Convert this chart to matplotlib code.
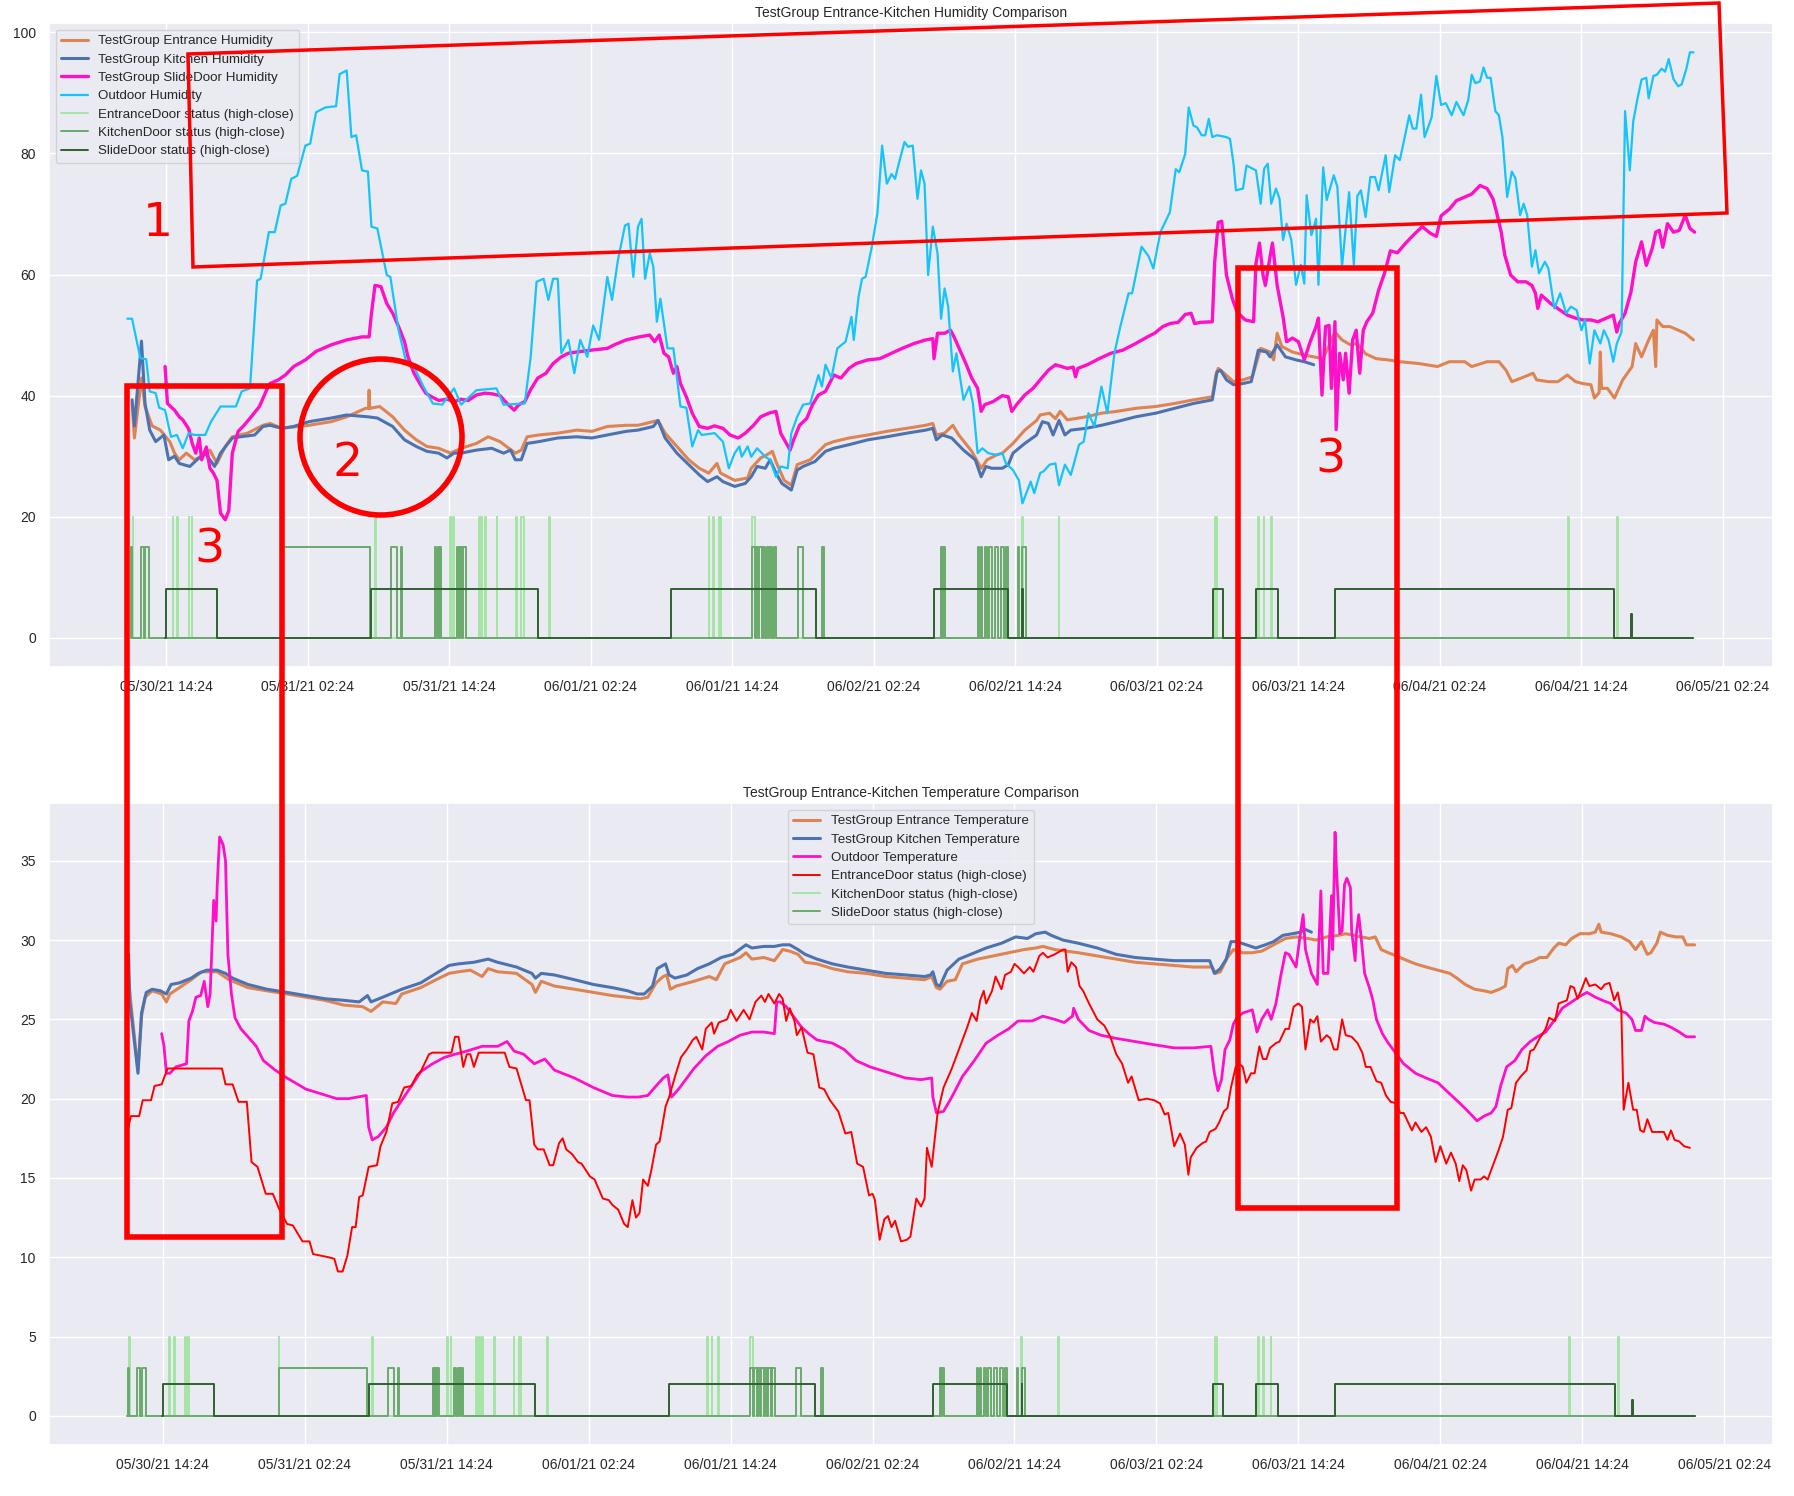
import numpy as np
import seaborn as sns
from matplotlib import pyplot as plt
from matplotlib import dates as mdates
from matplotlib.patches import Polygon, Ellipse, Rectangle

# hours since 2021-05-30 00:00, value
entrance_hum = [
    (11.5, 38.7), (11.7, 33.0), (12.3, 42.9), (12.6, 38.2), (13.2, 35.0), (13.9, 34.3), (14.7, 32.4), (15.1, 30.5),
    (15.5, 29.4), (16.1, 30.5), (16.8, 29.4), (17.4, 30.0), (18.1, 31.0), (18.7, 28.8), (19.4, 31.6), (20.0, 33.2),
    (21.3, 33.8), (22.6, 35.1), (23.2, 35.4), (24.2, 34.6), (26.5, 35.1), (28.4, 35.7), (29.7, 36.5), (31.3, 37.9),
    (31.55, 37.9), (31.6, 40.9), (31.65, 37.9), (32.5, 38.2), (33.6, 36.5), (34.6, 34.3), (35.6, 32.7), (36.5, 31.6),
    (37.5, 31.3), (38.5, 30.5), (39.4, 31.3), (40.7, 32.1), (41.7, 33.2), (42.7, 32.4), (44.0, 30.5), (44.5, 31.0),
    (45.0, 33.2), (46.0, 33.5), (47.6, 33.8), (49.2, 34.3), (50.5, 34.1), (51.8, 34.9), (53.4, 35.1), (54.4, 35.1),
    (56.1, 35.9), (56.7, 33.8), (57.7, 31.6), (58.7, 29.4), (59.6, 28.0), (60.4, 27.2), (61.1, 28.8), (61.4, 27.2),
    (62.6, 26.0), (63.7, 26.4), (64.0, 28.0), (64.8, 29.7), (65.3, 30.2), (65.8, 30.8), (66.1, 29.1), (66.8, 26.0),
    (67.4, 25.2), (67.9, 28.6), (69.0, 29.4), (70.3, 31.9), (71.0, 32.4), (72.3, 33.0), (73.9, 33.5), (75.5, 34.1),
    (77.2, 34.6), (78.8, 35.1), (79.4, 35.4), (79.7, 33.5), (80.4, 33.8), (81.1, 35.1), (81.6, 33.5), (82.7, 30.8),
    (83.5, 28.0), (84.0, 29.4), (84.8, 30.2), (85.3, 30.5), (86.2, 32.1), (87.2, 34.3), (88.2, 35.9), (88.5, 36.8),
    (89.3, 37.1), (89.8, 36.2), (90.2, 37.4), (90.8, 36.0), (92.4, 36.5), (93.7, 37.1), (95.0, 37.4), (96.6, 37.9),
    (98.3, 38.2), (99.9, 38.7), (101.5, 39.3), (103.1, 39.8), (103.4, 43.4), (103.6, 44.5), (104.1, 43.7), (104.9, 42.3),
    (105.7, 42.6), (106.5, 43.1), (107.2, 47.8), (108.0, 47.2), (108.3, 45.9), (108.6, 50.3), (109.0, 48.1), (109.9, 47.2),
    (110.9, 46.7), (112.5, 46.1), (113.5, 50.5), (114.1, 49.2), (114.8, 48.4), (115.4, 48.6), (116.1, 46.9), (117.0, 46.1),
    (118.0, 45.9), (119.0, 45.6), (120.6, 45.3), (122.2, 44.8), (123.2, 45.6), (124.5, 45.6), (125.1, 44.8), (126.4, 45.6),
    (127.4, 45.6), (128.0, 44.2), (128.5, 42.3), (129.3, 42.9), (130.3, 43.7), (130.6, 42.6), (131.6, 42.3), (132.4, 42.3),
    (133.2, 43.4), (133.9, 42.3), (134.5, 42.0), (135.2, 41.8), (135.5, 39.6), (135.9, 40.5), (136.0, 47.2), (136.1, 41.2),
    (136.6, 41.2), (137.2, 39.6), (137.9, 42.6), (138.7, 44.8), (139.0, 48.6), (139.5, 46.4), (140.1, 49.2), (140.5, 50.8),
    (140.7, 44.8), (140.8, 52.5), (141.3, 51.4), (141.9, 51.4), (142.6, 50.8), (143.2, 50.3), (143.9, 49.2),
]

kitchen_hum = [
    (11.5, 39.3), (11.7, 35.0), (12.3, 49.0), (12.6, 38.7), (13.0, 34.3), (13.5, 32.4), (14.2, 33.5), (14.6, 29.4),
    (15.1, 30.0), (15.5, 28.8), (16.4, 28.3), (17.0, 29.4), (17.7, 30.5), (18.5, 28.3), (19.0, 30.5), (20.0, 33.0),
    (20.7, 33.2), (21.9, 33.5), (22.6, 34.9), (23.2, 35.1), (24.2, 34.6), (25.2, 34.9), (26.5, 35.7), (28.4, 36.3),
    (29.7, 36.8), (31.5, 36.5), (32.3, 36.3), (33.6, 34.9), (34.6, 32.7), (35.6, 31.6), (36.5, 30.8), (37.5, 30.5),
    (38.2, 29.7), (38.8, 30.5), (39.4, 30.5), (40.7, 31.0), (42.0, 31.3), (43.0, 30.5), (43.6, 31.0), (44.0, 29.4),
    (44.5, 29.4), (45.0, 32.1), (46.0, 32.4), (47.6, 33.0), (49.2, 33.2), (50.5, 33.0), (51.8, 33.5), (53.4, 34.1),
    (54.4, 34.3), (55.7, 34.9), (56.1, 35.9), (56.7, 33.0), (57.7, 30.5), (58.7, 28.6), (59.6, 26.9), (60.3, 25.8),
    (61.1, 26.6), (61.6, 25.8), (62.6, 25.0), (63.5, 25.5), (64.0, 26.6), (64.5, 28.3), (65.2, 28.0), (65.6, 29.4),
    (66.1, 27.2), (66.6, 25.5), (67.4, 24.4), (67.9, 27.7), (68.4, 28.3), (69.4, 29.1), (70.3, 30.8), (71.0, 31.3),
    (72.3, 31.9), (73.9, 32.7), (75.5, 33.2), (77.2, 33.8), (78.8, 34.3), (79.4, 34.6), (79.7, 32.7), (80.2, 33.5),
    (81.0, 33.0), (82.0, 31.0), (83.0, 29.4), (83.5, 26.6), (83.9, 28.3), (84.4, 28.0), (85.3, 28.0), (85.8, 28.6),
    (86.2, 30.5), (87.2, 32.1), (88.2, 33.5), (88.7, 35.7), (89.2, 35.4), (89.6, 33.5), (90.1, 35.9), (90.6, 33.5),
    (91.1, 34.3), (92.4, 34.6), (93.7, 35.1), (95.0, 35.7), (96.6, 36.5), (98.3, 37.1), (99.9, 37.9), (101.5, 38.7),
    (103.1, 39.3), (103.5, 43.9), (103.8, 44.2), (104.3, 42.6), (104.9, 41.8), (105.7, 42.0), (106.4, 42.3), (107.0, 47.5),
    (107.7, 47.2), (108.0, 46.4), (108.6, 48.4), (109.3, 46.4), (110.2, 45.9), (110.9, 45.6), (111.7, 45.1),
]

slidedoor_hum = [
    (14.3, 44.8), (14.5, 38.7), (15.1, 37.6), (15.5, 36.5), (15.8, 36.0), (16.3, 34.5), (16.6, 32.1), (16.9, 30.5),
    (17.2, 33.0), (17.4, 29.4), (17.8, 31.5), (18.1, 28.0), (18.4, 27.2), (18.7, 26.0), (19.0, 20.6), (19.4, 19.5),
    (19.7, 21.0), (20.0, 30.5), (20.5, 34.1), (21.0, 35.1), (21.6, 36.5), (22.3, 38.2), (22.9, 40.9), (23.2, 42.0),
    (23.9, 42.6), (24.5, 43.4), (25.2, 44.8), (26.2, 45.9), (27.1, 47.3), (28.4, 48.4), (29.7, 49.2), (31.0, 49.7),
    (31.6, 49.7), (31.8, 53.6), (32.1, 58.2), (32.6, 58.0), (33.1, 55.2), (33.6, 53.6), (34.1, 51.4), (34.6, 48.9),
    (34.9, 46.4), (35.4, 43.7), (35.9, 42.0), (36.4, 40.4), (36.9, 39.8), (37.5, 39.2), (38.2, 39.4), (38.8, 39.0),
    (39.4, 39.4), (40.0, 39.2), (40.7, 40.1), (41.4, 40.4), (42.0, 40.3), (42.7, 40.0), (43.3, 38.7), (43.9, 37.6),
    (44.3, 38.5), (44.8, 39.0), (45.3, 41.0), (45.9, 42.9), (46.6, 43.7), (47.2, 45.3), (47.9, 46.4), (48.5, 47.0),
    (49.2, 47.2), (50.4, 47.5), (51.8, 47.8), (52.4, 48.4), (53.4, 49.2), (54.5, 49.7), (55.4, 50.0), (55.8, 48.9),
    (56.2, 50.0), (56.6, 47.0), (57.0, 46.4), (57.4, 43.7), (57.7, 44.8), (58.0, 42.0), (58.5, 39.8), (59.0, 37.1),
    (59.6, 34.9), (60.3, 34.6), (60.9, 35.0), (61.6, 34.6), (62.2, 33.5), (62.9, 33.0), (63.5, 33.8), (64.2, 35.1),
    (64.8, 36.5), (65.5, 37.1), (66.1, 37.4), (66.5, 33.8), (66.9, 32.4), (67.3, 31.0), (67.6, 32.7), (68.1, 35.1),
    (68.7, 36.2), (69.2, 38.5), (69.7, 40.1), (70.3, 40.7), (71.0, 43.4), (71.6, 42.9), (72.3, 44.5), (72.9, 45.3),
    (73.9, 45.9), (74.9, 46.1), (75.9, 47.0), (76.8, 47.8), (77.8, 48.6), (78.8, 49.2), (79.4, 49.4), (79.5, 46.1),
    (79.8, 50.3), (80.4, 50.3), (80.9, 50.8), (81.2, 49.7), (81.7, 47.5), (82.2, 45.3), (82.7, 42.9), (83.2, 41.2),
    (83.5, 37.4), (83.8, 38.5), (84.5, 39.0), (85.3, 40.0), (85.8, 39.8), (86.1, 37.4), (86.5, 38.5), (87.2, 40.1),
    (87.9, 41.2), (88.5, 42.6), (89.2, 44.2), (89.8, 45.1), (90.8, 44.5), (91.3, 44.7), (91.5, 43.1), (91.7, 44.5),
    (92.5, 45.1), (93.5, 46.1), (94.5, 47.0), (95.5, 47.5), (96.6, 48.6), (97.6, 49.7), (98.2, 50.3), (98.9, 51.4),
    (99.5, 51.9), (100.2, 52.1), (100.8, 53.4), (101.3, 53.6), (101.6, 51.9), (102.1, 52.1), (103.1, 52.2), (103.3, 62.0),
    (103.6, 68.6), (103.9, 68.8), (104.3, 59.9), (104.8, 56.0), (105.2, 53.8), (105.9, 52.5), (106.6, 52.2), (106.8, 61.8),
    (107.1, 65.2), (107.4, 59.9), (107.6, 58.2), (108.0, 63.0), (108.2, 65.2), (108.6, 58.2), (109.1, 53.0), (109.4, 48.9),
    (109.9, 49.5), (110.4, 48.9), (110.9, 45.9), (111.4, 48.9), (111.9, 51.4), (112.1, 52.8), (112.4, 40.1), (112.7, 51.4),
    (113.0, 51.6), (113.2, 41.2), (113.5, 52.2), (113.6, 34.4), (113.9, 47.0), (114.2, 42.6), (114.4, 47.0), (114.7, 40.4),
    (115.0, 49.2), (115.3, 50.8), (115.6, 43.7), (115.9, 50.8), (116.2, 52.2), (116.7, 53.6), (117.2, 57.4), (117.7, 60.2),
    (118.2, 63.9), (118.8, 63.6), (119.5, 65.2), (120.3, 66.8), (120.9, 67.9), (121.6, 66.8), (122.1, 66.3), (122.5, 69.7),
    (123.2, 70.8), (123.8, 72.2), (124.5, 72.8), (125.1, 73.3), (125.8, 74.7), (126.4, 74.2), (126.9, 72.5), (127.2, 70.3),
    (127.6, 67.0), (127.9, 63.2), (128.4, 59.9), (129.0, 58.8), (129.7, 58.8), (130.2, 58.2), (130.5, 56.9), (130.7, 54.4),
    (131.0, 56.6), (131.8, 55.2), (132.6, 54.1), (133.2, 53.3), (133.9, 52.8), (134.5, 52.5), (135.2, 52.5), (135.8, 52.2),
    (136.5, 52.8), (137.1, 53.3), (137.4, 50.5), (137.6, 51.9), (138.1, 53.6), (138.6, 57.1), (139.0, 62.1), (139.5, 65.4),
    (139.9, 61.5), (140.4, 64.3), (140.7, 67.0), (141.0, 67.3), (141.3, 64.5), (141.7, 68.4), (142.2, 67.0), (142.7, 67.3),
    (143.2, 69.8), (143.6, 67.6), (144.0, 67.0),
]

outdoor_hum = [
    (11.1, 52.7), (11.5, 52.7), (12.2, 46.2), (12.7, 46.0), (13.0, 40.7), (13.5, 40.4), (13.8, 38.0), (14.3, 37.6),
    (14.8, 33.2), (15.3, 33.5), (15.8, 31.3), (16.3, 33.8), (16.8, 33.5), (17.7, 33.5), (18.2, 35.7), (19.0, 38.2),
    (20.3, 38.2), (20.8, 40.7), (21.5, 41.2), (22.1, 59.0), (22.4, 59.3), (23.1, 67.0), (23.6, 67.0), (24.1, 71.4),
    (24.5, 71.7), (25.0, 75.8), (25.5, 76.3), (26.2, 81.3), (26.6, 81.6), (27.1, 86.8), (27.9, 87.6), (28.8, 87.8),
    (29.1, 93.1), (29.7, 93.7), (30.1, 82.7), (30.5, 83.0), (31.0, 77.2), (31.5, 77.0), (31.8, 67.9), (32.3, 67.6),
    (33.1, 59.9), (33.4, 59.6), (34.1, 50.8), (34.7, 45.9), (35.4, 44.8), (36.2, 41.5), (37.0, 38.7), (37.8, 38.5),
    (38.8, 41.2), (39.4, 38.5), (40.7, 40.9), (42.4, 41.2), (43.0, 38.5), (44.8, 38.7), (45.3, 46.4), (45.8, 58.8),
    (46.4, 59.3), (46.8, 55.8), (47.2, 59.3), (47.6, 59.3), (47.9, 47.0), (48.5, 49.2), (49.0, 43.7), (49.5, 49.2),
    (50.1, 46.4), (50.6, 51.6), (51.1, 49.2), (51.8, 59.6), (52.2, 55.8), (52.7, 62.4), (53.3, 68.1), (53.6, 68.4),
    (54.0, 59.6), (54.4, 67.9), (54.7, 69.2), (55.0, 59.3), (55.4, 63.5), (55.7, 61.3), (56.0, 52.2), (56.3, 56.0),
    (56.9, 47.8), (57.4, 47.8), (58.0, 38.2), (58.5, 38.0), (59.0, 31.6), (59.5, 34.3), (59.8, 33.5), (60.9, 33.8),
    (61.6, 32.4), (62.1, 28.0), (62.6, 30.5), (63.0, 31.6), (63.2, 29.9), (63.7, 31.6), (64.0, 29.9), (64.5, 31.3),
    (65.2, 29.9), (65.6, 29.4), (66.1, 26.6), (66.5, 28.3), (67.1, 28.0), (67.4, 33.8), (67.9, 36.5), (68.4, 38.5),
    (69.0, 38.7), (69.7, 43.4), (70.0, 41.5), (70.3, 45.1), (70.8, 42.9), (71.3, 47.8), (72.0, 48.9), (72.5, 53.0),
    (72.7, 49.2), (73.1, 56.3), (73.4, 59.3), (73.7, 59.6), (74.2, 64.3), (74.7, 70.1), (75.1, 81.3), (75.5, 75.0),
    (75.9, 76.6), (76.2, 75.8), (76.5, 78.2), (77.0, 81.9), (77.3, 81.1), (77.7, 81.3), (78.1, 72.5), (78.4, 77.2),
    (78.7, 75.0), (79.0, 59.9), (79.4, 67.9), (79.8, 63.5), (80.1, 52.7), (80.4, 57.7), (80.7, 54.7), (81.1, 44.0),
    (81.4, 47.0), (82.0, 39.3), (82.5, 41.5), (82.8, 38.7), (83.2, 30.5), (83.6, 31.3), (84.1, 30.5), (84.8, 30.2),
    (85.3, 30.5), (85.6, 28.8), (86.2, 27.7), (86.7, 26.0), (87.0, 22.2), (87.7, 25.8), (88.0, 23.9), (88.5, 27.2),
    (88.8, 27.5), (89.3, 28.6), (89.8, 28.8), (90.1, 25.2), (90.6, 28.6), (91.1, 26.9), (91.8, 31.9), (92.2, 32.4),
    (92.6, 37.1), (93.1, 34.9), (93.7, 41.5), (94.2, 37.1), (94.8, 47.0), (95.3, 51.4), (96.0, 56.9), (96.3, 56.9),
    (97.1, 64.6), (97.7, 63.0), (98.1, 61.0), (98.7, 67.0), (99.5, 70.3), (100.0, 77.4), (100.3, 76.9), (100.8, 79.9),
    (101.1, 87.6), (101.5, 84.6), (101.8, 84.3), (102.2, 83.0), (102.5, 83.0), (102.8, 85.7), (103.1, 82.7), (103.5, 83.0),
    (104.3, 82.7), (104.6, 82.4), (104.9, 78.3), (105.1, 73.9), (105.7, 74.2), (106.0, 78.0), (106.5, 77.5), (106.8, 77.2),
    (107.2, 71.7), (107.5, 77.5), (107.8, 78.3), (108.1, 71.7), (108.5, 74.2), (108.8, 72.5), (109.1, 65.7), (109.4, 68.4),
    (109.8, 65.7), (110.2, 58.3), (110.6, 61.6), (110.9, 58.5), (111.1, 73.1), (111.5, 66.5), (111.9, 69.2), (112.1, 58.3),
    (112.5, 77.7), (112.8, 72.3), (113.4, 76.4), (113.7, 74.5), (114.1, 61.3), (114.7, 73.6), (115.1, 61.6), (115.4, 73.0),
    (115.7, 73.9), (116.1, 69.5), (116.5, 76.1), (116.9, 76.1), (117.2, 73.9), (117.8, 79.7), (118.1, 73.6), (118.6, 79.7),
    (119.0, 78.9), (119.3, 81.6), (119.8, 86.3), (120.1, 84.1), (120.4, 84.1), (120.8, 89.7), (121.1, 82.7), (121.4, 84.3),
    (121.7, 86.0), (122.1, 92.8), (122.5, 88.0), (122.9, 88.3), (123.4, 86.3), (123.8, 88.5), (124.4, 86.3), (124.8, 88.8),
    (125.1, 93.0), (125.4, 91.6), (125.8, 91.9), (126.1, 94.2), (126.4, 92.5), (126.7, 92.5), (127.1, 87.0), (127.4, 86.3),
    (127.7, 82.7), (128.1, 72.8), (128.5, 77.0), (128.8, 75.9), (129.2, 69.8), (129.5, 71.7), (129.8, 69.8), (130.2, 61.3),
    (130.5, 64.0), (130.8, 60.2), (131.3, 62.1), (131.6, 61.0), (132.1, 54.4), (132.6, 56.9), (133.1, 53.6), (133.5, 54.7),
    (134.0, 54.1), (134.4, 50.8), (134.7, 52.5), (135.1, 45.3), (135.5, 50.8), (136.0, 48.6), (136.3, 50.8), (136.7, 49.2),
    (137.1, 45.6), (137.4, 48.6), (137.8, 50.5), (138.1, 87.0), (138.5, 77.2), (138.8, 85.4), (139.2, 89.5), (139.5, 92.2),
    (139.9, 92.5), (140.1, 89.1), (140.5, 92.8), (140.8, 93.0), (141.2, 94.0), (141.5, 93.5), (141.8, 95.6), (142.2, 92.3),
    (142.6, 91.1), (142.9, 91.4), (143.3, 94.0), (143.6, 96.7), (143.9, 96.7),
]

entrance_temp = [
    (11.5, 27.7), (11.7, 26.0), (12.3, 21.8), (12.6, 25.2), (12.9, 26.4), (13.5, 26.8), (14.3, 26.6), (14.7, 26.1),
    (15.0, 26.6), (15.8, 27.0), (16.8, 27.5), (17.7, 28.0), (19.0, 28.0), (20.0, 27.5), (21.6, 27.0), (23.2, 26.8),
    (24.9, 26.6), (26.5, 26.4), (28.1, 26.2), (29.7, 25.9), (31.3, 25.8), (32.0, 25.5), (33.0, 26.1), (34.1, 26.0),
    (34.6, 26.6), (36.2, 27.0), (37.5, 27.5), (38.6, 27.9), (39.4, 28.0), (40.4, 28.1), (41.4, 27.7), (41.9, 28.2),
    (42.7, 28.0), (44.3, 27.9), (45.6, 27.2), (45.9, 26.7), (46.4, 27.4), (47.5, 27.1), (49.2, 26.9), (50.8, 26.7),
    (52.4, 26.5), (54.8, 26.3), (55.4, 26.4), (56.1, 27.3), (56.7, 27.7), (57.0, 27.8), (57.3, 26.9), (57.8, 27.1),
    (59.3, 27.4), (60.6, 27.7), (61.2, 27.5), (61.9, 28.5), (63.2, 28.9), (63.7, 29.2), (64.2, 28.8), (65.2, 28.9),
    (66.1, 28.7), (66.8, 29.4), (67.4, 29.3), (68.1, 29.1), (68.7, 28.6), (69.7, 28.5), (71.0, 28.2), (72.3, 28.0),
    (73.9, 27.9), (75.5, 27.7), (77.2, 27.6), (78.8, 27.5), (79.4, 27.7), (79.8, 27.0), (80.1, 26.9), (80.7, 27.4),
    (81.4, 27.5), (82.0, 28.5), (83.3, 28.8), (84.6, 29.0), (85.9, 29.2), (87.2, 29.4), (88.2, 29.5), (88.8, 29.6),
    (89.8, 29.4), (90.8, 29.3), (91.8, 29.2), (93.4, 29.0), (95.0, 28.8), (96.6, 28.6), (98.2, 28.5), (99.9, 28.4),
    (101.5, 28.3), (103.1, 28.3), (103.4, 27.9), (103.8, 28.0), (104.4, 28.9), (104.9, 29.4), (105.7, 29.2), (106.5, 29.2),
    (107.3, 29.3), (108.3, 29.7), (109.3, 30.1), (110.2, 30.2), (111.2, 30.1), (111.9, 30.0), (112.8, 30.2), (113.8, 30.3),
    (114.4, 30.4), (115.1, 30.3), (115.7, 30.2), (116.4, 30.1), (116.9, 30.2), (117.4, 29.4), (118.0, 29.2), (118.7, 29.0),
    (119.3, 28.8), (120.3, 28.5), (121.2, 28.3), (122.2, 28.1), (123.2, 27.9), (123.8, 27.6), (124.5, 27.2), (125.3, 26.9),
    (126.1, 26.8), (126.7, 26.7), (127.4, 26.9), (127.9, 27.1), (128.1, 28.2), (128.5, 28.4), (128.8, 28.0), (129.5, 28.5),
    (130.3, 28.7), (130.8, 28.9), (131.4, 28.9), (132.0, 29.5), (132.4, 29.8), (133.0, 29.7), (133.5, 30.1), (134.2, 30.4),
    (135.0, 30.4), (135.5, 30.5), (135.8, 31.0), (136.0, 30.5), (136.8, 30.4), (137.7, 30.2), (138.4, 29.9), (138.9, 29.4),
    (139.4, 29.9), (139.9, 29.1), (140.2, 29.2), (140.7, 29.8), (141.0, 30.5), (141.6, 30.3), (142.3, 30.2), (142.9, 30.2),
    (143.2, 29.7), (143.9, 29.7),
]

kitchen_temp = [
    (11.5, 29.1), (11.6, 26.2), (12.3, 21.6), (12.6, 25.4), (13.0, 26.7), (13.5, 26.9), (14.2, 26.8), (14.7, 26.6),
    (15.1, 27.2), (15.8, 27.3), (16.8, 27.6), (17.4, 27.9), (18.1, 28.1), (19.0, 28.1), (19.7, 27.9), (20.3, 27.6),
    (21.6, 27.2), (23.2, 26.9), (24.9, 26.7), (26.5, 26.5), (28.1, 26.3), (29.7, 26.2), (31.0, 26.1), (31.7, 26.5),
    (32.0, 26.1), (33.0, 26.4), (34.6, 26.9), (36.2, 27.3), (37.5, 27.9), (38.6, 28.4), (39.4, 28.5), (40.7, 28.6),
    (41.9, 28.8), (42.7, 28.6), (44.3, 28.3), (45.6, 27.9), (45.9, 27.6), (46.4, 27.9), (47.5, 27.8), (49.2, 27.5),
    (50.8, 27.2), (52.4, 27.0), (53.7, 26.8), (54.5, 26.6), (55.1, 26.6), (55.8, 27.1), (56.2, 28.2), (56.9, 28.5),
    (57.2, 27.8), (57.7, 27.6), (58.7, 27.8), (59.6, 28.2), (60.6, 28.5), (61.6, 28.9), (62.6, 29.1), (63.7, 29.7),
    (64.2, 29.5), (65.2, 29.6), (66.1, 29.6), (66.8, 29.7), (67.4, 29.7), (68.1, 29.4), (68.7, 29.1), (69.7, 28.8),
    (71.0, 28.5), (72.3, 28.3), (73.9, 28.1), (75.5, 27.9), (77.2, 27.8), (78.8, 27.7), (79.3, 27.8), (79.5, 28.0),
    (79.8, 27.2), (80.1, 27.1), (80.7, 28.1), (81.7, 28.8), (82.7, 29.1), (84.0, 29.5), (85.3, 29.8), (86.5, 30.2),
    (87.5, 30.1), (88.2, 30.4), (89.0, 30.5), (89.5, 30.3), (90.5, 30.0), (91.8, 29.8), (93.4, 29.5), (95.0, 29.1),
    (96.6, 28.9), (98.2, 28.8), (99.9, 28.7), (101.5, 28.7), (102.9, 28.7), (103.3, 27.9), (103.8, 28.2), (104.3, 28.8),
    (104.7, 29.9), (105.2, 29.9), (106.0, 29.7), (106.8, 29.5), (107.6, 29.7), (108.3, 29.9), (109.1, 30.3), (109.9, 30.4),
    (110.6, 30.5), (110.9, 30.7), (111.5, 30.5),
]

slidedoor_temp = [
    (14.3, 24.1), (14.5, 23.3), (14.7, 21.6), (15.0, 21.6), (15.5, 22.0), (16.4, 22.2), (16.6, 24.9), (16.9, 25.5),
    (17.2, 26.4), (17.6, 26.5), (17.9, 27.4), (18.2, 25.8), (18.4, 26.6), (18.7, 32.5), (18.9, 31.2), (19.0, 33.5),
    (19.2, 36.5), (19.5, 36.0), (19.7, 35.0), (19.9, 29.1), (20.2, 26.6), (20.5, 25.1), (21.0, 24.4), (21.6, 23.9),
    (22.3, 23.3), (22.9, 22.4), (23.9, 21.8), (24.9, 21.3), (26.5, 20.6), (27.8, 20.3), (29.1, 20.0), (30.1, 20.0),
    (31.6, 20.2), (31.8, 18.2), (32.1, 17.4), (32.6, 17.6), (33.3, 18.2), (33.9, 19.1), (34.6, 19.9), (35.6, 21.0),
    (36.2, 21.7), (37.2, 22.2), (38.2, 22.6), (39.1, 22.8), (40.1, 23.0), (41.4, 23.3), (42.7, 23.3), (43.5, 23.6),
    (44.1, 23.0), (44.9, 22.8), (45.8, 22.2), (46.7, 22.5), (47.5, 21.8), (49.2, 21.3), (50.8, 20.7), (52.4, 20.2),
    (53.7, 20.1), (54.6, 20.1), (55.4, 20.2), (56.1, 20.8), (56.7, 21.3), (57.1, 21.5), (57.4, 20.1), (58.0, 20.6),
    (58.7, 21.3), (59.3, 21.9), (60.3, 22.7), (61.3, 23.3), (62.2, 23.6), (63.2, 24.0), (64.2, 24.2), (65.2, 24.2),
    (66.1, 24.1), (66.3, 26.1), (66.6, 26.1), (67.1, 25.8), (67.8, 25.1), (68.4, 24.5), (69.0, 24.1), (69.7, 23.7),
    (71.0, 23.5), (72.0, 23.1), (73.0, 22.4), (74.2, 22.0), (75.5, 21.7), (77.2, 21.3), (78.5, 21.2), (79.4, 21.3),
    (79.5, 20.1), (79.8, 19.1), (80.4, 19.2), (81.1, 20.1), (82.0, 21.4), (83.0, 22.4), (84.0, 23.5), (85.0, 24.0),
    (85.9, 24.4), (86.7, 24.9), (87.9, 24.9), (88.8, 25.2), (89.8, 25.0), (90.6, 24.8), (91.3, 25.2), (91.4, 25.7),
    (91.8, 25.0), (92.7, 24.3), (93.7, 24.0), (95.0, 23.8), (96.6, 23.6), (98.2, 23.4), (99.9, 23.2), (101.5, 23.2),
    (103.0, 23.3), (103.3, 21.6), (103.6, 20.5), (103.9, 21.2), (104.2, 23.1), (104.6, 23.7), (104.9, 24.7), (105.2, 25.1),
    (105.7, 25.4), (106.5, 25.6), (106.9, 24.2), (107.3, 25.0), (107.8, 25.6), (108.1, 25.0), (108.5, 26.0), (108.9, 27.7),
    (109.3, 29.2), (109.6, 29.1), (109.9, 28.7), (110.2, 28.3), (110.6, 30.6), (110.8, 31.6), (111.0, 29.4), (111.5, 27.9),
    (112.0, 27.2), (112.3, 33.1), (112.5, 27.9), (112.9, 27.9), (113.2, 32.8), (113.3, 29.4), (113.5, 36.8), (113.6, 34.8),
    (113.9, 30.4), (114.1, 30.6), (114.3, 33.5), (114.5, 33.9), (114.8, 33.3), (114.9, 30.6), (115.2, 28.7), (115.3, 30.4),
    (115.5, 31.6), (115.7, 30.2), (116.0, 27.9), (116.4, 27.0), (116.7, 26.2), (117.0, 25.0), (117.5, 24.1), (118.0, 23.5),
    (118.7, 22.8), (119.3, 22.2), (120.3, 21.6), (121.2, 21.3), (122.2, 21.0), (123.2, 20.3), (124.2, 19.6), (125.0, 19.0),
    (125.5, 18.6), (126.1, 18.9), (126.7, 19.1), (127.1, 19.5), (127.5, 20.8), (128.0, 22.0), (128.7, 22.4), (129.3, 23.1),
    (130.0, 23.6), (130.6, 23.9), (131.3, 24.2), (132.1, 25.0), (132.7, 25.7), (133.5, 26.1), (134.3, 26.5), (134.8, 26.7),
    (135.5, 26.4), (136.1, 26.2), (136.8, 26.0), (137.4, 25.6), (138.1, 25.4), (138.6, 25.0), (138.9, 24.3), (139.4, 24.3),
    (139.7, 25.2), (140.0, 25.0), (140.5, 24.8), (141.3, 24.7), (141.9, 24.5), (142.6, 24.2), (143.2, 23.9), (143.9, 23.9),
]

outdoor_temp = [
    (11.4, 17.9), (11.7, 18.9), (12.4, 18.9), (12.7, 19.9), (13.4, 19.9), (13.7, 20.8), (14.3, 20.9), (14.8, 21.9),
    (19.4, 21.9), (19.7, 20.9), (20.3, 20.9), (20.8, 19.8), (21.5, 19.8), (21.9, 16.0), (22.4, 15.7), (23.1, 14.0),
    (23.7, 14.0), (24.2, 13.1), (24.9, 12.1), (25.4, 12.0), (26.2, 11.0), (26.8, 11.0), (27.1, 10.2), (28.4, 10.0),
    (28.9, 9.9), (29.2, 9.1), (29.6, 9.1), (30.0, 10.1), (30.4, 11.9), (30.7, 11.9), (31.0, 13.8), (31.3, 13.9),
    (31.8, 15.7), (32.5, 15.8), (32.8, 17.0), (33.3, 17.9), (33.8, 19.7), (34.3, 19.8), (34.8, 20.7), (35.4, 20.8),
    (35.9, 21.5), (36.2, 21.7), (36.9, 22.8), (37.2, 22.9), (38.8, 22.9), (39.1, 23.9), (39.4, 23.9), (39.8, 22.0),
    (40.1, 22.8), (40.4, 22.8), (40.7, 22.0), (41.1, 22.9), (43.3, 22.9), (43.7, 22.0), (44.3, 21.9), (45.1, 19.9),
    (45.4, 19.9), (45.8, 17.1), (46.1, 16.8), (46.6, 16.8), (47.1, 15.8), (47.4, 15.8), (47.9, 17.2), (48.2, 17.5),
    (48.5, 16.8), (49.0, 16.5), (49.5, 16.0), (49.8, 15.9), (50.5, 15.1), (50.9, 14.9), (51.6, 13.7), (52.1, 13.6),
    (52.4, 13.3), (52.9, 13.0), (53.4, 12.1), (53.7, 11.9), (54.1, 13.6), (54.4, 12.5), (54.7, 12.8), (55.0, 14.9),
    (55.4, 14.5), (55.7, 15.5), (56.1, 17.1), (56.4, 17.3), (56.9, 19.5), (57.2, 20.1), (57.7, 21.4), (58.2, 22.6),
    (58.7, 23.1), (59.2, 23.7), (59.5, 23.9), (60.0, 23.1), (60.3, 24.4), (60.8, 24.8), (61.0, 24.1), (61.4, 24.8),
    (62.1, 25.0), (62.4, 25.6), (62.9, 24.9), (63.5, 25.6), (64.0, 25.0), (64.5, 26.1), (65.0, 26.5), (65.3, 26.1),
    (65.6, 26.6), (66.1, 26.0), (66.5, 26.6), (66.8, 26.3), (67.1, 24.9), (67.4, 25.7), (67.8, 24.9), (68.0, 24.0),
    (68.4, 24.5), (68.9, 22.9), (69.4, 22.8), (69.9, 20.7), (70.3, 20.6), (70.8, 19.9), (71.5, 19.2), (72.1, 17.8),
    (72.6, 17.9), (73.1, 15.9), (73.6, 15.7), (74.1, 13.9), (74.4, 14.0), (74.6, 13.6), (75.0, 11.1), (75.4, 12.4),
    (75.7, 12.6), (76.0, 11.9), (76.3, 12.3), (76.8, 11.0), (77.3, 11.1), (77.6, 11.3), (78.1, 13.7), (78.5, 13.2),
    (78.8, 13.7), (79.0, 16.9), (79.4, 15.7), (79.9, 19.1), (80.4, 20.7), (81.1, 21.9), (81.7, 23.1), (82.4, 24.5),
    (82.8, 25.4), (83.2, 24.9), (83.5, 26.2), (83.8, 26.8), (84.0, 26.0), (84.5, 26.8), (84.8, 27.7), (85.3, 26.9),
    (85.6, 27.8), (86.1, 28.0), (86.4, 28.5), (86.7, 28.3), (87.2, 27.9), (87.7, 28.3), (88.0, 28.0), (88.5, 29.0),
    (88.8, 29.2), (89.2, 28.9), (89.8, 29.1), (90.5, 29.4), (90.7, 29.4), (90.9, 28.0), (91.2, 28.6), (91.6, 28.3),
    (91.9, 27.1), (92.2, 26.8), (92.7, 26.0), (93.4, 25.0), (94.0, 24.6), (94.5, 23.9), (95.0, 22.8), (95.5, 22.2),
    (96.0, 21.0), (96.3, 21.4), (96.9, 19.9), (97.6, 20.0), (98.2, 19.9), (98.7, 19.7), (99.1, 19.0), (99.4, 19.1),
    (99.9, 17.0), (100.4, 17.8), (100.8, 17.1), (101.1, 15.2), (101.3, 16.3), (101.8, 16.9), (102.3, 17.2), (102.6, 17.3),
    (102.9, 17.9), (103.4, 18.1), (103.7, 18.5), (104.1, 19.2), (104.4, 19.4), (104.7, 20.7), (105.1, 22.0), (105.4, 22.2),
    (105.7, 22.0), (106.0, 21.0), (106.4, 21.6), (106.7, 21.6), (107.1, 23.3), (107.4, 22.5), (107.7, 22.5), (108.0, 23.2),
    (108.5, 23.5), (108.8, 23.6), (109.3, 24.4), (109.6, 24.4), (110.0, 25.8), (110.4, 26.0), (110.7, 25.8), (111.0, 23.1),
    (111.4, 25.0), (111.7, 24.8), (112.0, 25.2), (112.3, 23.6), (112.8, 24.0), (113.1, 23.8), (113.4, 23.1), (113.7, 23.1),
    (114.1, 25.0), (114.4, 24.0), (114.9, 23.9), (115.4, 23.5), (115.8, 22.9), (116.1, 22.0), (116.5, 22.0), (117.0, 21.1),
    (117.4, 21.0), (117.8, 20.2), (118.2, 19.8), (118.7, 19.7), (119.0, 19.1), (119.3, 19.1), (120.0, 18.0), (120.3, 18.5),
    (120.8, 17.9), (121.2, 18.2), (121.6, 17.6), (122.0, 16.0), (122.4, 17.0), (122.9, 15.9), (123.3, 16.6), (123.7, 15.9),
    (124.0, 14.8), (124.3, 15.8), (124.6, 15.5), (125.0, 14.2), (125.3, 14.9), (125.8, 14.9), (126.1, 15.1), (126.4, 14.9),
    (126.9, 15.9), (127.3, 16.7), (127.7, 17.6), (128.1, 19.3), (128.4, 19.4), (128.8, 21.0), (129.2, 21.4), (129.7, 21.8),
    (130.0, 23.0), (130.3, 23.1), (130.8, 23.8), (131.3, 24.4), (131.6, 25.1), (132.1, 24.9), (132.4, 26.0), (133.1, 26.2),
    (133.4, 27.1), (133.7, 27.0), (134.0, 26.3), (134.4, 27.0), (134.7, 27.6), (135.0, 27.1), (135.5, 27.2), (136.0, 26.9),
    (136.3, 27.2), (136.7, 27.3), (137.1, 26.2), (137.4, 26.7), (137.7, 25.6), (137.9, 19.3), (138.3, 21.0), (138.7, 19.3),
    (139.0, 19.3), (139.3, 18.0), (139.6, 17.9), (139.9, 18.7), (140.3, 17.9), (141.3, 17.9), (141.6, 17.4), (141.9, 18.0),
    (142.2, 17.4), (142.6, 17.3), (143.0, 17.0), (143.5, 16.9),
]

# door open intervals (start hour, end hour, level)
entrance_door = [
    (11.55, 11.62, 1), (14.95, 15.0, 1), (15.35, 15.4, 1), (16.3, 16.36, 1), (16.56, 16.62, 1), (24.2, 24.26, 1),
    (32.12, 32.18, 1), (38.45, 38.55, 1), (38.72, 38.8, 1), (40.9, 41.0, 1), (41.1, 41.2, 1), (41.4, 41.5, 1),
    (42.43, 42.48, 1), (44.05, 44.1, 1), (44.5, 44.7, 1), (46.88, 46.93, 1), (60.4, 60.45, 1), (60.8, 60.85, 1),
    (61.3, 61.4, 1), (64.05, 64.3, 1), (86.95, 87.02, 1), (90.08, 90.13, 1), (103.35, 103.5, 1), (107.0, 107.05, 1),
    (107.45, 107.52, 1), (108.05, 108.12, 1), (133.3, 133.35, 1), (137.45, 137.52, 1),
]
kitchen_door = [
    (11.45, 11.5, 1), (12.25, 12.5, 1), (12.6, 12.95, 1), (24.22, 31.66, 1), (33.46, 33.95, 1), (34.28, 34.35, 1),
    (37.2, 37.3, 1), (37.4, 37.5, 1), (37.6, 37.73, 1), (39.05, 39.2, 1), (39.35, 39.5, 1), (39.6, 39.78, 1),
    (64.08, 64.3, 1), (64.4, 64.6, 1), (64.7, 64.9, 1), (65.0, 65.2, 1), (65.3, 65.5, 1), (65.6, 65.8, 1),
    (65.9, 66.13, 1), (67.97, 68.36, 1), (70.0, 70.2, 1), (80.08, 80.2, 1), (80.3, 80.47, 1), (83.2, 83.3, 1),
    (83.5, 83.6, 1), (83.8, 84.0, 1), (84.2, 84.4, 1), (84.7, 84.9, 1), (85.2, 85.4, 1), (85.6, 85.77, 1),
    (86.6, 86.7, 1), (87.0, 87.3, 1),
]
slide_door = [
    (14.4, 18.7, 1), (31.8, 45.9, 1), (57.2, 69.5, 1), (79.5, 85.8, 1), (87.0, 87.05, 1), (103.2, 104.0, 1),
    (106.8, 108.7, 1), (113.5, 137.2, 1), (138.6, 138.65, 0.5),
]
door_span = {"entrance": (11.4, 143.9), "kitchen": (11.4, 143.9), "slide": (14.3, 143.9)}

# draw heights of the door traces in each panel
hum_door_levels = [20, 15, 8]
temp_door_levels = [5, 3, 2]

tick_labels = ["05/30/21 14:24", "05/31/21 02:24", "05/31/21 14:24", "06/01/21 02:24", "06/01/21 14:24",
               "06/02/21 02:24", "06/02/21 14:24", "06/03/21 02:24", "06/03/21 14:24", "06/04/21 02:24",
               "06/04/21 14:24", "06/05/21 02:24"]

BASE = np.datetime64("2021-05-30T00:00")


def to_time(hours):
    return BASE + (np.asarray(hours) * 3600).astype("timedelta64[s]")


def series(pairs):
    arr = np.array(pairs)
    return to_time(arr[:, 0]), arr[:, 1]


def door_steps(intervals, span):
    h = [span[0]]
    v = [0]
    for a, b, lvl in intervals:
        h += [a, b]
        v += [lvl, 0]
    h.append(span[1])
    v.append(0)
    return to_time(h), np.array(v, dtype=float)


sns.set_theme(style="darkgrid")
plt.rcParams["font.family"] = ["Liberation Sans", "DejaVu Sans"]

W, H = 1794, 1496
fig = plt.figure(figsize=(W / 100, H / 100), dpi=100)
ax1 = fig.add_axes([0.0273, 0.5541, 0.9610, 0.4305])
ax2 = fig.add_axes([0.0273, 0.0341, 0.9610, 0.4291])

ORANGE = "#dd8452"
BLUE = "#4c72b0"
MAGENTA = "#ff10c8"
CYAN = "#14c4fa"
LIGHT_G = "#a6e4a6"
MID_G = "#6aaa6c"
DARK_G = "#2f6131"

doors = [door_steps(entrance_door, door_span["entrance"]),
         door_steps(kitchen_door, door_span["kitchen"]),
         door_steps(slide_door, door_span["slide"])]
door_colors = [LIGHT_G, MID_G, DARK_G]

# humidity panel
t, v = series(entrance_hum)
ax1.plot(t, v, color=ORANGE, lw=2.2, label="TestGroup Entrance Humidity")
t, v = series(kitchen_hum)
ax1.plot(t, v, color=BLUE, lw=2.2, label="TestGroup Kitchen Humidity")
t, v = series(slidedoor_hum)
ax1.plot(t, v, color=MAGENTA, lw=2.4, label="TestGroup SlideDoor Humidity")
t, v = series(outdoor_hum)
ax1.plot(t, v, color=CYAN, lw=1.6, label="Outdoor Humidity")
hum_door_names = ["EntranceDoor status (high-close)", "KitchenDoor status (high-close)",
                  "SlideDoor status (high-close)"]
for (t, v), lvl, c, name in zip(doors, hum_door_levels, door_colors, hum_door_names):
    ax1.plot(t, v * lvl, color=c, lw=1.4, drawstyle="steps-post", label=name)
ax1.set_title("TestGroup Entrance-Kitchen Humidity Comparison", fontsize=10, pad=4)
ax1.legend(loc="upper left", fontsize=9.6, labelspacing=0.45)

# temperature panel
t, v = series(entrance_temp)
ax2.plot(t, v, color=ORANGE, lw=2.2, label="TestGroup Entrance Temperature")
t, v = series(kitchen_temp)
ax2.plot(t, v, color=BLUE, lw=2.2, label="TestGroup Kitchen Temperature")
t, v = series(slidedoor_temp)
ax2.plot(t, v, color=MAGENTA, lw=2.0, label="Outdoor Temperature")
t, v = series(outdoor_temp)
ax2.plot(t, v, color="red", lw=1.4, label="EntranceDoor status (high-close)")
temp_door_names = ["KitchenDoor status (high-close)", "SlideDoor status (high-close)", "_nolegend_"]
for (t, v), lvl, c, name in zip(doors, temp_door_levels, door_colors, temp_door_names):
    ax2.plot(t, v * lvl, color=c, lw=1.4, drawstyle="steps-post", label=name)
ax2.set_title("TestGroup Entrance-Kitchen Temperature Comparison", fontsize=10, pad=4)
ax2.legend(loc="upper center", fontsize=9.6, labelspacing=0.45)

ticks = to_time([14.4 + 12 * k for k in range(len(tick_labels))])
for ax in (ax1, ax2):
    ax.set_xticks(ticks)
    ax.xaxis.set_major_formatter(mdates.DateFormatter("%m/%d/%y %H:%M"))
    ax.tick_params(labelsize=10)

# hand-drawn red markup on top of the figure (pixel coords from the top-left)
def fpos(x, y):
    return (x / W, 1 - y / H)


marks = [
    Polygon([fpos(188, 54), fpos(1719, 3), fpos(1727, 213), fpos(193, 267)], closed=True),
    Ellipse(fpos(381, 437), 162 / W, 156 / H),
    Rectangle(fpos(127, 1237), (282 - 127) / W, (1237 - 386) / H),
    Rectangle(fpos(1238, 1208), (1397 - 1238) / W, (1208 - 268) / H),
]
mark_widths = [2.5, 4.0, 4.0, 4.0]
for patch, lw in zip(marks, mark_widths):
    patch.set_fill(False)
    patch.set_edgecolor("red")
    patch.set_linewidth(lw)
    patch.set_transform(fig.transFigure)
    fig.add_artist(patch)

for label, (x, y) in [("1", (158, 223)), ("2", (348, 463)), ("3", (209, 550)), ("3", (1330, 460))]:
    fig.text(*fpos(x, y), label, color="red", fontsize=34, ha="center", va="center",
             family="DejaVu Sans")

fig.savefig("out.png", dpi=100)
